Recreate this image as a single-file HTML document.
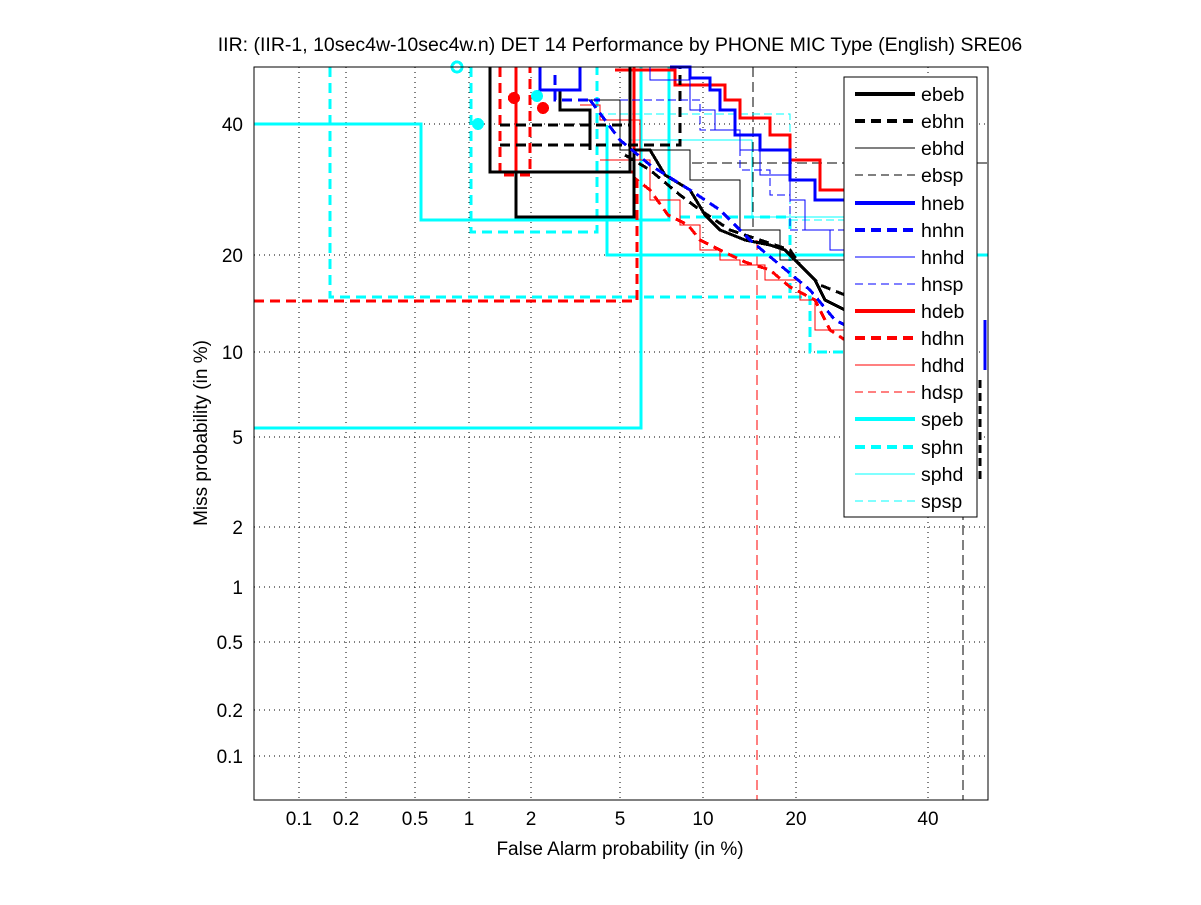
<!DOCTYPE html>
<html><head><meta charset="utf-8"><style>
html,body{margin:0;padding:0;background:#fff;}
svg text{font-family:"Liberation Sans",sans-serif;}
</style></head><body>
<svg width="1201" height="900" viewBox="0 0 1201 900" xmlns="http://www.w3.org/2000/svg" shape-rendering="crispEdges">
<rect width="1201" height="900" fill="#fff"/>
<text x="620" y="51" font-size="19.5" text-anchor="middle">IIR: (IIR-1, 10sec4w-10sec4w.n) DET 14 Performance by PHONE MIC Type (English) SRE06</text>
<g stroke="#000" stroke-width="1" stroke-dasharray="1,4">
<line x1="299" y1="67" x2="299" y2="800"/><line x1="346" y1="67" x2="346" y2="800"/><line x1="415" y1="67" x2="415" y2="800"/><line x1="469" y1="67" x2="469" y2="800"/><line x1="531" y1="67" x2="531" y2="800"/><line x1="620" y1="67" x2="620" y2="800"/><line x1="703" y1="67" x2="703" y2="800"/><line x1="796" y1="67" x2="796" y2="800"/><line x1="928" y1="67" x2="928" y2="800"/>
<line x1="254" y1="124" x2="988" y2="124"/><line x1="254" y1="255" x2="988" y2="255"/><line x1="254" y1="352" x2="988" y2="352"/><line x1="254" y1="437" x2="988" y2="437"/><line x1="254" y1="527" x2="988" y2="527"/><line x1="254" y1="587" x2="988" y2="587"/><line x1="254" y1="642" x2="988" y2="642"/><line x1="254" y1="710" x2="988" y2="710"/><line x1="254" y1="756" x2="988" y2="756"/>
</g>
<g fill="none">
<path d="M757 240V800" stroke="#f00" stroke-width="1" stroke-dasharray="10,5"/>
<path d="M963 480V800" stroke="#000" stroke-width="1" stroke-dasharray="10,5"/>
<path d="M753 67V230" stroke="#000" stroke-width="1" stroke-dasharray="10,5"/>
<path d="M692 163H988" stroke="#000" stroke-width="1" stroke-dasharray="10,5"/>
<path d="M254 428H641V67" stroke="#0ff" stroke-width="3"/>
<path d="M254 124H421V220H669V67" stroke="#0ff" stroke-width="3"/>
<path d="M607 125V255H988" stroke="#0ff" stroke-width="3"/>
<path d="M330 67V297H800" stroke="#0ff" stroke-width="3" stroke-dasharray="10,6"/>
<path d="M471 67V232H597V67" stroke="#0ff" stroke-width="3" stroke-dasharray="10,6"/>
<path d="M680 217H790V297H810V352H845" stroke="#0ff" stroke-width="3" stroke-dasharray="10,6"/>
<path d="M596 114H790V220H845" stroke="#0ff" stroke-width="1" stroke-dasharray="8,4"/>
<path d="M630 140H752V217H845" stroke="#0ff" stroke-width="1"/>
<path d="M988 255V420" stroke="#0ff" stroke-width="1" stroke-dasharray="8,4"/>
<path d="M254 301H637V180L650 190L668 215L688 225L700 240L720 250L745 262L770 270L790 287L815 300L830 330L845 340" stroke="#f00" stroke-width="3" stroke-dasharray="10,6"/>
<path d="M516 67V172H634V67" stroke="#f00" stroke-width="3"/>
<path d="M615 70H675V85H725V100H740V118H770V135H790V160H820V190H845" stroke="#f00" stroke-width="3"/>
<path d="M600 160H650V200H680V225H700V250H720V260H740V265H765V280H800V300H815V330H845" stroke="#f00" stroke-width="1"/>
<path d="M500 67V175H530V67" stroke="#f00" stroke-width="3" stroke-dasharray="10,6"/>
<path d="M580 105H600V120H640V160" stroke="#f00" stroke-width="1"/>
<path d="M490 67V172H630V67" stroke="#000" stroke-width="3"/>
<path d="M516 172V217H634V150H650L665 175L690 190L705 215L720 230L745 240L770 245L785 250L800 265L815 280L825 300L845 310" stroke="#000" stroke-width="3"/>
<path d="M500 145H680V67" stroke="#000" stroke-width="3" stroke-dasharray="10,6"/>
<path d="M500 125H630" stroke="#000" stroke-width="3" stroke-dasharray="10,6"/>
<path d="M625 155L650 170L680 195L700 210L730 230L760 240L790 250L800 265L820 285L845 295" stroke="#000" stroke-width="3" stroke-dasharray="10,6"/>
<path d="M585 100H620V150H690V180H740V230H780V260H845" stroke="#000" stroke-width="1"/>
<path d="M560 90V110H590V150" stroke="#000" stroke-width="3"/>
<path d="M980 380V480" stroke="#000" stroke-width="3" stroke-dasharray="8,5"/>
<path d="M540 67V90H580V67" stroke="#00f" stroke-width="3"/>
<path d="M555 75V100H600" stroke="#00f" stroke-width="3" stroke-dasharray="10,6"/>
<path d="M670 67H690V78H710V90H720V110H735V135H760V150H790V180H815V200H845" stroke="#00f" stroke-width="3"/>
<path d="M590 100L620 140L650 165L690 190L720 210L750 240L780 265L810 290L835 320L845 325" stroke="#00f" stroke-width="3" stroke-dasharray="10,6"/>
<path d="M650 67V80H690V110H715V130H740V150H760V175H790V200H805V230H830V250H845" stroke="#00f" stroke-width="1"/>
<path d="M620 100H700V130H740V170H770V195H790V230H845" stroke="#00f" stroke-width="1" stroke-dasharray="8,4"/>
<path d="M985 320V370" stroke="#00f" stroke-width="3"/>
</g>
<g fill="#0ff"><circle cx="478" cy="124" r="6"/><circle cx="537" cy="96" r="6"/></g>
<circle cx="457" cy="67" r="5" fill="none" stroke="#0ff" stroke-width="3"/>
<g fill="#f00"><circle cx="514" cy="98" r="6"/><circle cx="543" cy="108" r="6"/></g>
<rect x="254" y="67" width="734" height="733" fill="none" stroke="#000" stroke-width="1"/>
<g font-size="19" text-anchor="end">
<text x="243" y="131">40</text><text x="243" y="262">20</text><text x="243" y="359">10</text><text x="243" y="444">5</text><text x="243" y="534">2</text><text x="243" y="594">1</text><text x="243" y="649">0.5</text><text x="243" y="717">0.2</text><text x="243" y="763">0.1</text>
</g>
<g font-size="19" text-anchor="middle">
<text x="299" y="825">0.1</text><text x="346" y="825">0.2</text><text x="415" y="825">0.5</text><text x="469" y="825">1</text><text x="531" y="825">2</text><text x="620" y="825">5</text><text x="703" y="825">10</text><text x="796" y="825">20</text><text x="928" y="825">40</text>
</g>
<text x="620" y="855" font-size="19" text-anchor="middle">False Alarm probability (in %)</text>
<text transform="translate(207,433) rotate(-90)" font-size="19" text-anchor="middle">Miss probability (in %)</text>
<rect x="844" y="77" width="133" height="440" fill="#fff" stroke="#000" stroke-width="1"/>
<g font-size="19.5">
<g fill="none">
<line x1="855" y1="94" x2="915" y2="94" stroke="#000" stroke-width="4"/>
<line x1="855" y1="121" x2="915" y2="121" stroke="#000" stroke-width="4" stroke-dasharray="10,6"/>
<line x1="855" y1="148" x2="915" y2="148" stroke="#000" stroke-width="1"/>
<line x1="855" y1="175" x2="915" y2="175" stroke="#000" stroke-width="1" stroke-dasharray="8,5"/>
<line x1="855" y1="203" x2="915" y2="203" stroke="#00f" stroke-width="4"/>
<line x1="855" y1="230" x2="915" y2="230" stroke="#00f" stroke-width="4" stroke-dasharray="10,6"/>
<line x1="855" y1="257" x2="915" y2="257" stroke="#00f" stroke-width="1"/>
<line x1="855" y1="284" x2="915" y2="284" stroke="#00f" stroke-width="1" stroke-dasharray="8,5"/>
<line x1="855" y1="311" x2="915" y2="311" stroke="#f00" stroke-width="4"/>
<line x1="855" y1="338" x2="915" y2="338" stroke="#f00" stroke-width="4" stroke-dasharray="10,6"/>
<line x1="855" y1="365" x2="915" y2="365" stroke="#f00" stroke-width="1"/>
<line x1="855" y1="392" x2="915" y2="392" stroke="#f00" stroke-width="1" stroke-dasharray="8,5"/>
<line x1="855" y1="419" x2="915" y2="419" stroke="#0ff" stroke-width="4"/>
<line x1="855" y1="447" x2="915" y2="447" stroke="#0ff" stroke-width="4" stroke-dasharray="10,6"/>
<line x1="855" y1="474" x2="915" y2="474" stroke="#0ff" stroke-width="1"/>
<line x1="855" y1="501" x2="915" y2="501" stroke="#0ff" stroke-width="1" stroke-dasharray="8,5"/>
</g>
<text x="921" y="101">ebeb</text><text x="921" y="128">ebhn</text><text x="921" y="155">ebhd</text><text x="921" y="182">ebsp</text>
<text x="921" y="210">hneb</text><text x="921" y="237">hnhn</text><text x="921" y="264">hnhd</text><text x="921" y="291">hnsp</text>
<text x="921" y="318">hdeb</text><text x="921" y="345">hdhn</text><text x="921" y="372">hdhd</text><text x="921" y="399">hdsp</text>
<text x="921" y="426">speb</text><text x="921" y="454">sphn</text><text x="921" y="481">sphd</text><text x="921" y="508">spsp</text>
</g>
</svg>
</body></html>
